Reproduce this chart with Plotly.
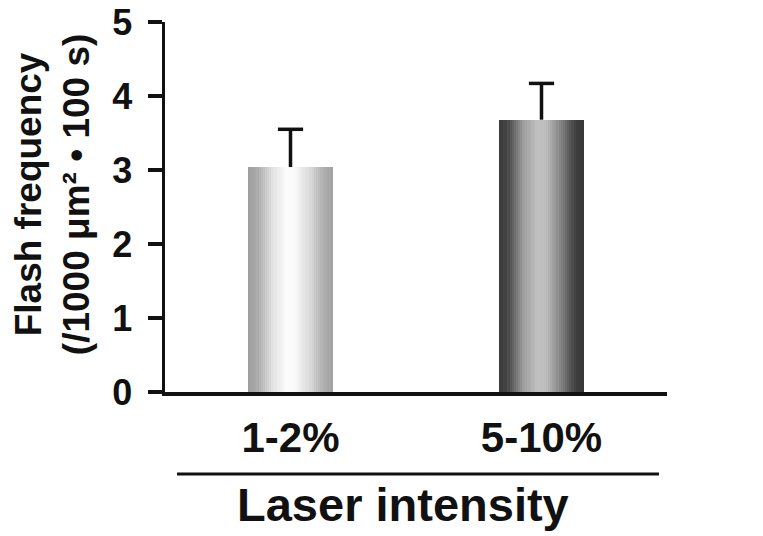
import plotly.graph_objects as go

# ---- data ----
categories = ["1-2%", "5-10%"]
values = [3.04, 3.68]
errors = [0.51, 0.49]
y_ticks = [0, 1, 2, 3, 4, 5]

# gradient stops (position across bar, gray level) for each bar
grad_stops = [
    [(0.0, 158), (0.1, 168), (0.3, 228), (0.45, 252), (0.55, 250), (0.75, 212), (0.9, 172), (1.0, 162)],
    [(0.0, 58), (0.1, 70), (0.3, 162), (0.45, 192), (0.55, 190), (0.75, 122), (0.9, 62), (1.0, 55)],
]

FONT = "Liberation Sans, Arial, sans-serif"
BAR_W = 0.34
N = 40


def gray_at(stops, t):
    for (p0, g0), (p1, g1) in zip(stops[:-1], stops[1:]):
        if p0 <= t <= p1:
            f = (t - p0) / (p1 - p0) if p1 > p0 else 0
            g = int(round(g0 + (g1 - g0) * f))
            return f"rgb({g},{g},{g})"
    g = stops[-1][1]
    return f"rgb({g},{g},{g})"


fig = go.Figure()

# bars drawn as vertical strips to produce a horizontal gradient
step = BAR_W / N
for i in range(N):
    t = (i + 0.5) / N
    w = step * (1.06 if i < N - 1 else 1.0)
    fig.add_trace(go.Bar(
        x=categories, y=values,
        width=w, offset=-BAR_W / 2 + i * step,
        marker=dict(color=[gray_at(s, t) for s in grad_stops], line=dict(width=0)),
        showlegend=False, hoverinfo="skip",
    ))

# error bars (upper only): stems
sx, sy = [], []
for c, v, e in zip(categories, values, errors):
    sx += [c, c, None]
    sy += [v, v + e, None]
fig.add_trace(go.Scatter(x=sx, y=sy, mode="lines",
                         line=dict(color="#111111", width=3.5),
                         showlegend=False, hoverinfo="skip"))
# caps
fig.add_trace(go.Scatter(x=categories, y=[v + e for v, e in zip(values, errors)],
                         mode="markers",
                         marker=dict(symbol="line-ew", size=18,
                                     line=dict(color="#111111", width=3.5)),
                         showlegend=False, hoverinfo="skip"))

fig.update_layout(
    width=763, height=536,
    margin=dict(l=165, r=96, t=22, b=144),
    paper_bgcolor="white", plot_bgcolor="white",
    barmode="overlay", bargap=0,
    showlegend=False,
    font=dict(family=FONT, color="#111111"),
)

fig.update_xaxes(
    type="category", range=[-0.5, 1.5], automargin=False,
    showline=True, linecolor="#111111", linewidth=3.5,
    showgrid=False, zeroline=False, ticks="",
    tickfont=dict(family=FONT, size=42, weight="bold", color="#111111"),
    ticklabelstandoff=6, ticklabeloverflow="allow",
)
fig.update_yaxes(
    range=[0, 5], tickvals=y_ticks, ticktext=[str(t) for t in y_ticks],
    automargin=False,
    showline=True, linecolor="#111111", linewidth=3.5,
    showgrid=False, zeroline=False,
    ticks="outside", ticklen=14, tickwidth=3.5, tickcolor="#111111",
    tickfont=dict(family=FONT, size=36, weight="bold", color="#111111"),
    ticklabelstandoff=8, ticklabeloverflow="allow",
)

# y-axis title (two lines)
fig.add_annotation(
    text="Flash frequency<br>(/1000 μm² • 100 s)",
    textangle=-90, xref="paper", yref="paper",
    x=0, y=0.532, xanchor="center", yanchor="middle",
    xshift=-113, showarrow=False,
    font=dict(family=FONT, size=37, weight="bold", color="#111111"),
)

# separator line under category labels
fig.add_shape(type="line", xref="paper", yref="paper",
              x0=0.024, x1=0.984, y0=-0.2216, y1=-0.2216,
              line=dict(color="#111111", width=3))

# x-axis title
fig.add_annotation(
    text="Laser intensity", xref="paper", yref="paper",
    x=0.474, y=-0.305, xanchor="center", yanchor="middle",
    showarrow=False,
    font=dict(family=FONT, size=47, weight="bold", color="#111111"),
)

# remove the page's default body margin so the figure fills the window exactly
fig.write_html("out.html",
               config={"displayModeBar": False, "staticPlot": True},
               post_script="document.body.style.margin='0';document.body.style.overflow='hidden';")
